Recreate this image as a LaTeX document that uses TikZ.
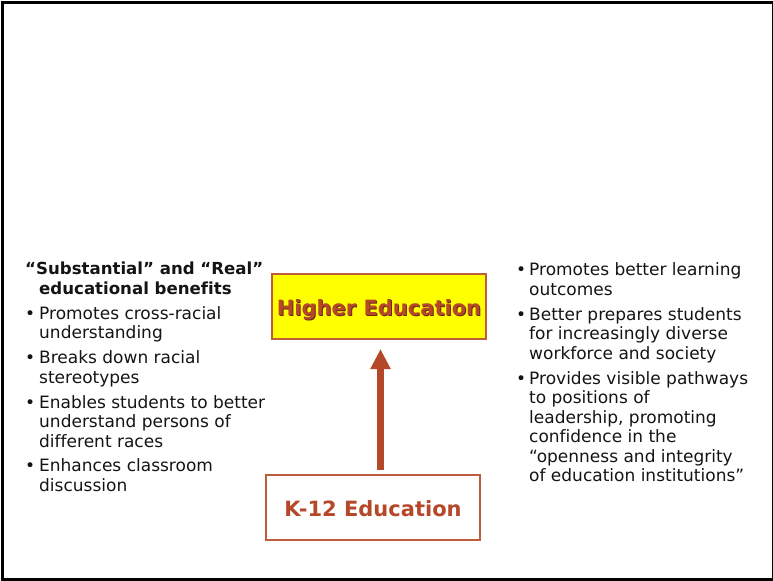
\documentclass[tikz,border=0pt]{standalone}
\usepackage{fontspec}
\setmainfont[Ligatures={NoCommon}]{DejaVu Sans}
\usetikzlibrary{arrows.meta,positioning}

\definecolor{eduBrown}{RGB}{180,72,40}
\definecolor{boxLine}{RGB}{190,92,62}
\definecolor{hiYellow}{RGB}{255,255,0}
\definecolor{shade}{RGB}{110,40,20}
\definecolor{bodyText}{RGB}{20,20,20}

% text with a small dark drop shadow
\newcommand{\shadowed}[1]{\makebox[0pt][l]{\hspace{1bp}\raisebox{-1bp}{\textcolor{shade}{#1}}}#1}

\begin{document}
\begin{tikzpicture}[x=1bp,y=-1bp,node distance=5bp,
  every node/.style={inner sep=0pt},
  eduBox/.style={draw=boxLine,line width=2bp,minimum width=214bp,minimum height=65bp,
    text height=19.5bp,text depth=1bp,
    font=\fontsize{21bp}{24bp}\selectfont\bfseries,text=eduBrown},
  bulletList/.style={anchor=north west,text=bodyText,
    font=\fontsize{17bp}{19.5bp}\selectfont},
  headList/.style={bulletList,font=\fontsize{16.6bp}{19.5bp}\selectfont\bfseries}]

  \useasboundingbox (0,0) rectangle (773,581);
  \draw[line width=3bp] (2.5,2.5) rectangle (773.5,579);

  % the two boxes and the arrow
  \node[eduBox,fill=hiYellow] (higher) at (379,306.5) {\shadowed{Higher Education}};
  \node[eduBox,fill=white,line width=1.5bp] (k12) at (373,507.5) {K-12 Education};
  \draw[eduBrown,line width=7bp,-{Triangle[length=20bp,width=19bp]}]
    ([xshift=1.5bp,yshift=4bp]k12.north -| higher.south) -- ([xshift=1.5bp,yshift=-9bp]higher.south);

  % left column
  \node[headList] (lhead) at (25,261)
    {\begin{tabular}{@{}p{14bp}@{}l@{}}\multicolumn{2}{@{}l@{}}{“Substantial” and “Real”}\\ & educational benefits\end{tabular}};
  \node[bulletList,below=5bp of lhead.south west,anchor=north west] (lone)
    {\begin{tabular}{@{}p{14bp}@{}l@{}}•&Promotes cross-racial\\&understanding\end{tabular}};
  \node[bulletList,below=5bp of lone.south west,anchor=north west] (ltwo)
    {\begin{tabular}{@{}p{14bp}@{}l@{}}•&Breaks down racial\\&stereotypes\end{tabular}};
  \node[bulletList,below=5bp of ltwo.south west,anchor=north west] (lthree)
    {\begin{tabular}{@{}p{14bp}@{}l@{}}•&Enables students to better\\&understand persons of\\&different races\end{tabular}};
  \node[bulletList,below=5bp of lthree.south west,anchor=north west] (lfour)
    {\begin{tabular}{@{}p{14bp}@{}l@{}}•&Enhances classroom\\&discussion\end{tabular}};

  % right column
  \node[bulletList] (rone) at (516,262)
    {\begin{tabular}{@{}p{13bp}@{}l@{}}•&Promotes better learning\\&outcomes\end{tabular}};
  \node[bulletList,below=5bp of rone.south west,anchor=north west] (rtwo)
    {\begin{tabular}{@{}p{13bp}@{}l@{}}•&Better prepares students\\&for increasingly diverse\\&workforce and society\end{tabular}};
  \node[bulletList,below=5bp of rtwo.south west,anchor=north west] (rthree)
    {\begin{tabular}{@{}p{13bp}@{}l@{}}•&Provides visible pathways\\&to positions of\\&leadership, promoting\\&confidence in the\\&“openness and integrity\\&of education institutions”\end{tabular}};
\end{tikzpicture}
\end{document}
